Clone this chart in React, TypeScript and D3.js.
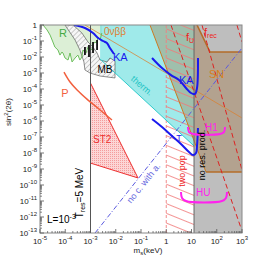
import React from "react";
import * as d3 from "d3";

// ---- data (exponents: [log10 m_s(keV), log10 sin^2(2θ)]) ----
const xDecades = [-5, -4, -3, -2, -1, 0, 1, 2, 3];
const yDecades = [0, -1, -2, -3, -4, -5, -6, -7, -8, -9, -10, -11, -12, -13];

const rLine = [[-4.88,0],[-4.72,-0.31],[-4.6,-0.63],[-4.49,-1.06],[-4.41,-1.38],[-4.29,-1.56],[-4.21,-1.88],[-4.13,-1.69],[-4.09,-1.75],[-4.01,-2.06],[-3.89,-2.19],[-3.81,-1.75],[-3.73,-2.31],[-3.61,-2.06],[-3.5,-1.88],[-3.42,-2.19],[-3.34,-2.0],[-3.3,-1.56],[-3.18,-1.75],[-3.1,-1.38],[-2.94,-1.56],[-2.9,-1.13],[-2.74,-1.06],[-2.7,-0.75],[-2.62,-0.94],[-2.55,-0.5]];
const rFillTop = [[-2.55,0]];
const mbRegion = [[-4.01,0],[-3.69,0],[-3.34,-0.5],[-3.1,-1.06],[-2.9,-1.38],[-2.74,-1.75],[-2.62,-2.19],[-2.35,-2.31],[-2.23,-2.06],[-2.03,-2.25],[-2.03,-3.31],[-2.62,-3.19],[-3.02,-3.0],[-3.22,-2.81],[-3.26,-2.31],[-3.42,-1.56],[-3.61,-0.94]];
const mbBars = [[-3.22,-1.38,-1.88],[-3.06,-1.25,-2.0],[-2.9,-1.06,-1.75],[-2.74,-0.94,-1.56]];
const thermRegion = [[-2.62,0],[1.1,0],[1.1,-7.56],[-2.62,-2.13]];
const thermLine = [[-2.62,-2.13],[1.1,-7.56]];
const snRegion = [[-0.644,0],[1.218,0],[1.733,-1.69],[3,-1.69],[3,-9.19],[1.574,-9.19]];
const snLeft = [[-0.644,0],[1.574,-9.19]];
const snUpper = [[1.218,0],[1.733,-1.69],[3,-1.69]];
const snLower = [[1.574,-9.19],[3,-9.19]];
const bbLine = [[-3.22,0],[3,-5.81]];
const pLine = [[-4.05,-2.94],[-3.81,-3.56],[-3.53,-4.06],[-3.14,-4.63],[-2.62,-5.31],[-2.15,-5.94]];
const st2Region = [[-3,-3.63],[-1.12,-9.56],[-3,-8.63]];
const noCLine = [[-2.82,-13],[3,-1.44]];
const ka1 = [[-3.65,0],[-3.22,-0.19],[-2.9,-0.5],[-2.7,-0.81],[-2.5,-1.0],[-2.35,-1.13],[-2.23,-1.44],[-2.07,-1.81]];
const ka2 = [[-0.564,-2.06],[-0.168,-2.69],[0.188,-3.13],[0.505,-3.44],[0.782,-3.94],[0.98,-4.25],[1.139,-4.31],[1.218,-3.94],[1.257,-2.06]];
const tLine = [[-0.564,-5.88],[-0.168,-6.38],[0.228,-6.94],[0.624,-7.5],[0.901,-7.94],[1.059,-8.13],[1.178,-8.0],[1.218,-7.56],[1.257,-6.44]];
const h1Bracket = [[0.861,-6.38],[0.901,-6.69],[1.059,-6.81],[2.129,-6.81],[2.287,-6.69],[2.327,-6.38]];
const huBracket = [[0.584,-10.44],[0.624,-10.81],[0.782,-11.0],[2.208,-11.0],[2.366,-10.81],[2.406,-10.44]];
const fULine = [[0.188,0],[2.96,-12.69]];
const fRecLines = [[[1.416,0],[3,-9.06]],[[2.8,0],[3,-1.06]]];
const noResEdge = 1.1;
const twoPopEdge = 0;
const tResEdge = -3;

const W = 269, H = 260;
const X = d3.scaleLog().domain([1e-5, 1e3]).range([40, 242]);
const Y = d3.scaleLog().domain([1e-13, 1]).range([233, 25]);
const px = (p: number[]) => X(10 ** p[0]);
const py = (p: number[]) => Y(10 ** p[1]);
const line = d3.line<number[]>().x(px).y(py);
const smooth = d3.line<number[]>().x(px).y(py).curve(d3.curveCatmullRom.alpha(0.5));
const poly = (pts: number[][]) => line(pts) + "Z";

const FONT = "Liberation Sans, Arial, sans-serif";

function Lbl({ at, children, fill = "#000", size = 10, anchor = "start", rot = 0 }: any) {
  const x = px(at), y = py(at);
  return (
    <text x={x} y={y} fill={fill} fontSize={size} textAnchor={anchor} fontFamily={FONT}
      transform={rot ? `rotate(${rot},${x},${y})` : undefined}>{children}</text>
  );
}

export default function App() {
  const xMinor: number[] = [];
  xDecades.forEach((e) => { if (e < 3) for (let k = 2; k <= 9; k++) xMinor.push(k * 10 ** e); });
  const yMinor: number[] = [];
  yDecades.forEach((e) => { if (e > -13) for (let k = 2; k <= 9; k++) yMinor.push(k * 10 ** (e - 1)); });

  const top = Y(1), bot = Y(1e-13), left = X(1e-5), right = X(1e3);

  return (
    <svg width={W} height={H} style={{ position: "absolute", left: 0, top: 0, background: "#fff" }}>
      <defs>
        <pattern id="mbh" width="3.5" height="3.5" patternUnits="userSpaceOnUse" patternTransform="rotate(45)">
          <rect width="3.5" height="3.5" fill="#f6f6f6" />
          <line x1="0" y1="0" x2="0" y2="3.5" stroke="#777" strokeWidth="0.7" />
        </pattern>
        <pattern id="st2" width="2" height="2" patternUnits="userSpaceOnUse">
          <rect width="2" height="2" fill="#fcd6d6" />
          <rect width="1" height="1" fill="#f49c9c" />
        </pattern>
        <pattern id="pinkh" width="14" height="9" patternUnits="userSpaceOnUse" patternTransform="rotate(22)">
          <line x1="0" y1="0.5" x2="14" y2="0.5" stroke="#f07878" strokeWidth="0.8" />
        </pattern>
        <clipPath id="plot"><rect x={left} y={top} width={right - left} height={bot - top} /></clipPath>
      </defs>

      <g clipPath="url(#plot)">
        <rect x={X(10 ** noResEdge)} y={top} width={right - X(10 ** noResEdge)} height={bot - top} fill="#bebebe" />
        <path d={poly([...rLine, ...rFillTop])} fill="#dcefd6" />
        <path d={poly(thermRegion)} fill="#5fdcdc" fillOpacity={0.6} />
        <path d={poly(snRegion)} fill="#a0703a" fillOpacity={0.35} />
        <rect x={X(10 ** twoPopEdge)} y={top} width={X(10 ** noResEdge) - X(10 ** twoPopEdge)} height={bot - top} fill="url(#pinkh)" />
        <line x1={X(10 ** twoPopEdge)} x2={X(10 ** twoPopEdge)} y1={top} y2={bot} stroke="#f08080" strokeWidth={0.9} strokeDasharray="3,2" />
        <path d={line(bbLine)!} stroke="#d98030" strokeOpacity={0.75} strokeWidth={1} fill="none" />
        <path d={poly(mbRegion)} fill="url(#mbh)" stroke="#444" strokeWidth={0.6} />
        <path d={poly(st2Region)} fill="url(#st2)" stroke="#ee3030" strokeWidth={1} />
        <path d={line(rLine)!} stroke="#6cbf5c" strokeWidth={1} fill="none" />
        <path d={line(thermLine)!} stroke="#30cccc" strokeWidth={1} fill="none" />
        <path d={line(snLeft)!} stroke="#cc7a22" strokeWidth={1} fill="none" />
        <path d={line(snUpper)!} stroke="#b46c28" strokeWidth={1.6} fill="none" />
        <path d={line(snLower)!} stroke="#b46c28" strokeWidth={1.6} fill="none" />
        <line x1={X(10 ** noResEdge)} x2={X(10 ** noResEdge)} y1={top} y2={bot} stroke="#666" strokeWidth={1} />
        <path d={line(fULine)!} stroke="#dd2222" strokeWidth={1} strokeDasharray="5,3" fill="none" />
        {fRecLines.map((l, i) => <path key={i} d={line(l)!} stroke="#dd2222" strokeWidth={1} strokeDasharray="5,3" fill="none" />)}
        <path d={line(noCLine)!} stroke="#5a5ae0" strokeWidth={1} strokeDasharray="5,2,1,2" fill="none" />
        <line x1={X(10 ** tResEdge)} x2={X(10 ** tResEdge)} y1={top} y2={bot} stroke="#555" strokeWidth={1} />
        <path d={smooth(pLine)!} stroke="#f2603e" strokeWidth={1.5} fill="none" />
        {mbBars.map((b, i) => (
          <line key={i} x1={px(b)} x2={px(b)} y1={Y(10 ** b[1])} y2={Y(10 ** b[2])} stroke="#111" strokeWidth={1.8} />
        ))}
        <path d={smooth(ka1)!} stroke="#1a1aee" strokeWidth={2} fill="none" />
        <path d={smooth(ka2)!} stroke="#1a1aee" strokeWidth={2} fill="none" />
        <path d={smooth(tLine)!} stroke="#1a1aee" strokeWidth={2} fill="none" />
        <path d={smooth(h1Bracket)!} stroke="#ff22ee" strokeWidth={2} fill="none" />
        <path d={smooth(huBracket)!} stroke="#ff22ee" strokeWidth={2} fill="none" />
      </g>

      <Lbl at={[-4.09, -0.75]} fill="#44aa44" size={11} anchor="middle">R</Lbl>
      <Lbl at={[-2.43, -3.0]} size={10} anchor="middle">MB</Lbl>
      <Lbl at={[-2.47, -0.63]} fill="#e08030" size={10}>0νββ</Lbl>
      <Lbl at={[-2.11, -2.25]} fill="#1a1aee" size={11}>KA</Lbl>
      <Lbl at={[0.505, -3.69]} fill="#1a1aee" size={11}>KA</Lbl>
      <Lbl at={[-1.04, -3.94]} fill="#22c4c4" size={9} anchor="middle" rot={40}>therm.</Lbl>
      <Lbl at={[-4.01, -4.5]} fill="#f2603e" size={11} anchor="middle">P</Lbl>
      <Lbl at={[-2.9, -7.38]} fill="#ee3030" size={10}>ST2</Lbl>
      <Lbl at={[0.505, -7.25]} fill="#1a1aee" size={9} anchor="middle">T</Lbl>
      <Lbl at={[1.535, -6.63]} fill="#ff22ee" size={10}>H1</Lbl>
      <Lbl at={[1.178, -10.69]} fill="#ff22ee" size={10}>HU</Lbl>
      <Lbl at={[1.693, -3.31]} fill="#d88020" size={11}>SN</Lbl>
      <Lbl at={[0.782, -1.0]} fill="#ee2222" size={11}>f<tspan fontSize={7} dy={2}>U</tspan></Lbl>
      <Lbl at={[1.495, -0.69]} fill="#ee2222" size={11}>f<tspan fontSize={7} dy={2}>rec</tspan></Lbl>
      <Lbl at={[0.743, -9.13]} fill="#ee2222" size={9} anchor="middle" rot={-90}>two pop</Lbl>
      <Lbl at={[1.535, -8.13]} size={9} anchor="middle" rot={-90}>no res. prod.</Lbl>
      <Lbl at={[-0.802, -10.0]} fill="#6a6ae0" size={9} anchor="middle" rot={-51.6}>no c. with a.</Lbl>
      <Lbl at={[-3.3, -10.5]} size={10} anchor="middle" rot={-90}>T<tspan fontSize={7} dy={2}>res</tspan><tspan dy={-2}>=5 MeV</tspan></Lbl>
      <Lbl at={[-4.72, -12.38]} size={10}>L=10<tspan fontSize={7} dy={-4}>-3</tspan></Lbl>

      <rect x={left} y={top} width={right - left} height={bot - top} fill="none" stroke="#888" strokeWidth={1} />
      {xDecades.map((e) => (
        <line key={"xM" + e} x1={X(10 ** e)} x2={X(10 ** e)} y1={bot} y2={bot - 4} stroke="#555" strokeWidth={0.8} />
      ))}
      {xMinor.map((v, i) => (
        <line key={"xm" + i} x1={X(v)} x2={X(v)} y1={bot} y2={bot - 2} stroke="#555" strokeWidth={0.7} />
      ))}
      {yDecades.map((e) => (
        <line key={"yM" + e} x1={left} x2={left + 4} y1={Y(10 ** e)} y2={Y(10 ** e)} stroke="#555" strokeWidth={0.8} />
      ))}
      {yMinor.map((v, i) => (
        <line key={"ym" + i} x1={left} x2={left + 2} y1={Y(v)} y2={Y(v)} stroke="#555" strokeWidth={0.7} />
      ))}
      {xDecades.map((e) => (
        <text key={"xl" + e} x={X(10 ** e)} y={bot + 11} fontSize={8} fontFamily={FONT} textAnchor="middle" fill="#222">
          {e === 0 ? "1" : e === 1 ? "10" : <>10<tspan fontSize={6} dy={-4}>{e}</tspan></>}
        </text>
      ))}
      {yDecades.map((e) => (
        <text key={"yl" + e} x={left - 3} y={Y(10 ** e) + 3} fontSize={8} fontFamily={FONT} textAnchor="end" fill="#222">
          {e === 0 ? "1" : <>10<tspan fontSize={6} dy={-4}>{e}</tspan></>}
        </text>
      ))}
      <text x={148} y={253} fontSize={8} fontFamily={FONT} textAnchor="middle" fill="#222">
        m<tspan fontSize={6} dy={2}>s</tspan><tspan dy={-2}>(keV)</tspan>
      </text>
      <text x={11} y={112} fontSize={8} fontFamily={FONT} textAnchor="middle" fill="#222" transform="rotate(-90,11,112)">
        sin<tspan fontSize={6} dy={-3}>2</tspan><tspan dy={3}>(2θ)</tspan>
      </text>
    </svg>
  );
}
